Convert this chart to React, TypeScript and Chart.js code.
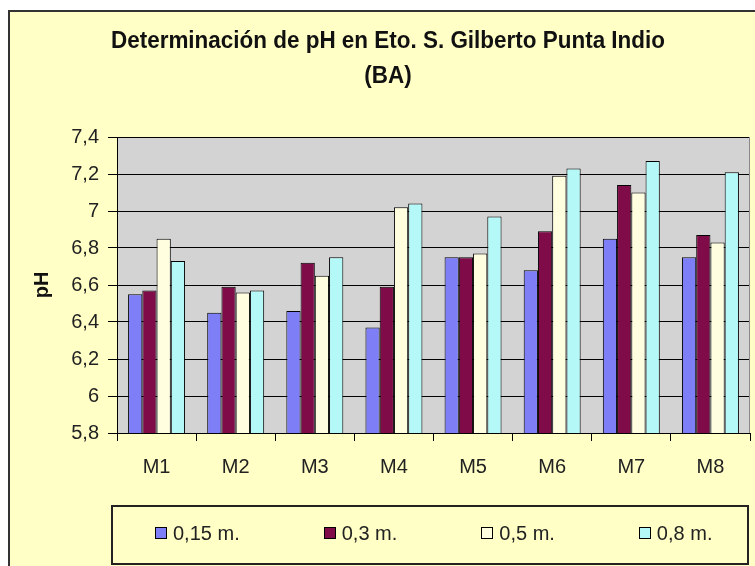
import React, { useEffect, useRef } from "react";
import { Chart, registerables } from "chart.js";

Chart.register(...registerables);

const TITLE_LINES = ["Determinación de pH en Eto. S. Gilberto Punta Indio", "(BA)"];
const Y_TITLE = "pH";
const CATEGORIES = ["M1", "M2", "M3", "M4", "M5", "M6", "M7", "M8"];
const SERIES_LABELS = ["0,15 m.", "0,3 m.", "0,5 m.", "0,8 m."];
const DEPTH_015 = [6.55, 6.45, 6.46, 6.37, 6.75, 6.68, 6.85, 6.75];
const DEPTH_03 = [6.57, 6.59, 6.72, 6.59, 6.75, 6.89, 7.14, 6.87];
const DEPTH_05 = [6.85, 6.56, 6.65, 7.02, 6.77, 7.19, 7.1, 6.83];
const DEPTH_08 = [6.73, 6.57, 6.75, 7.04, 6.97, 7.23, 7.27, 7.21];
const Y_TICK_LABELS = ["5,8", "6", "6,2", "6,4", "6,6", "6,8", "7", "7,2", "7,4"];
const Y_MIN = 5.8;
const Y_MAX = 7.4;
const Y_STEP = 0.2;

const SERIES_COLORS = ["#7e7ef6", "#7f0c48", "#ffffe0", "#b4f8f8"];
const BG = "#ffffc6";
const PLOT_BG = "#d3d3d3";
const FONT = "'Liberation Sans', Arial, sans-serif";
const TITLE_SIZE = 23;
const TITLE_TARGET_WIDTH = 554;

function titleScale(): number {
  try {
    const c = document.createElement("canvas").getContext("2d");
    if (!c) return 0.84;
    c.font = `bold ${TITLE_SIZE}px 'Liberation Sans', Arial, sans-serif`;
    const w = c.measureText(TITLE_LINES[0]).width;
    return w > 0 ? TITLE_TARGET_WIDTH / w : 0.84;
  } catch (e) {
    return 0.84;
  }
}

const plotBackground = {
  id: "plotBackground",
  beforeDraw(chart: any) {
    const { ctx, chartArea } = chart;
    if (!chartArea) return;
    ctx.save();
    ctx.fillStyle = PLOT_BG;
    ctx.fillRect(chartArea.left, chartArea.top, chartArea.right - chartArea.left, chartArea.bottom - chartArea.top);
    ctx.restore();
  },
  beforeDatasetsDraw(chart: any) {
    const { ctx, chartArea } = chart;
    ctx.save();
    ctx.strokeStyle = "#8a8a8a";
    ctx.lineWidth = 1;
    ctx.beginPath();
    ctx.moveTo(chartArea.right - 0.5, chartArea.top);
    ctx.lineTo(chartArea.right - 0.5, chartArea.bottom);
    ctx.stroke();
    ctx.restore();
  },
};

export default function App() {
  const ref = useRef<HTMLCanvasElement>(null);
  const sx = titleScale();

  useEffect(() => {
    const seriesValues = [DEPTH_015, DEPTH_03, DEPTH_05, DEPTH_08];
    const chart = new Chart(ref.current as HTMLCanvasElement, {
      type: "bar",
      data: {
        labels: CATEGORIES,
        datasets: seriesValues.map((vals, i) => ({
          label: SERIES_LABELS[i],
          data: vals,
          backgroundColor: SERIES_COLORS[i],
          borderColor: "#000",
          borderWidth: 1,
          borderSkipped: false,
          categoryPercentage: 0.72,
          barPercentage: 1,
        })),
      },
      options: {
        responsive: false,
        animation: false,
        layout: { padding: { top: 137, left: 20, right: 5, bottom: 83 } },
        plugins: {
          legend: { display: false },
          tooltip: { enabled: false },
          title: { display: false },
        },
        scales: {
          x: {
            offset: true,
            grid: {
              display: true,
              drawOnChartArea: false,
              drawTicks: true,
              tickLength: 8,
              color: "#000",
              offset: true,
            },
            border: { color: "#000", width: 1 },
            ticks: { color: "#222", font: { family: FONT, size: 20 }, padding: 14, maxRotation: 0 },
            afterFit: (s: any) => {
              s.height = 50;
            },
          },
          y: {
            min: Y_MIN,
            max: Y_MAX,
            ticks: {
              stepSize: Y_STEP,
              color: "#222",
              font: { family: FONT, size: 20 },
              padding: 9,
              callback: (value: any) => {
                const idx = Math.round((Number(value) - Y_MIN) / Y_STEP);
                return Y_TICK_LABELS[idx] ?? "";
              },
            },
            grid: { color: "#000", lineWidth: 1, tickLength: 9, drawTicks: true },
            border: { color: "#000", width: 1 },
            title: {
              display: true,
              text: Y_TITLE,
              color: "#111",
              font: { family: FONT, size: 20, weight: "bold" },
              padding: { top: 10, bottom: 0 },
            },
            afterFit: (s: any) => {
              s.width = 97;
            },
          },
        },
      },
      plugins: [plotBackground],
    });
    return () => chart.destroy();
  }, []);

  return (
    <div
      style={{
        position: "fixed",
        left: 0,
        top: 0,
        width: 755,
        height: 566,
        background: "#fff",
        overflow: "hidden",
      }}
    >
      <div
        style={{
          position: "absolute",
          left: 8,
          top: 10,
          width: 800,
          height: 620,
          background: BG,
          border: "2px solid #333",
          boxSizing: "border-box",
        }}
      />
      <canvas
        ref={ref}
        width={755}
        height={566}
        style={{ position: "absolute", left: 0, top: 0, width: 755, height: 566 }}
      />
      <div
        style={{
          position: "absolute",
          left: 0,
          top: 23,
          width: 776,
          textAlign: "center",
          fontFamily: FONT,
          fontWeight: "bold",
          fontSize: TITLE_SIZE,
          lineHeight: "35px",
          color: "#111",
          transform: `scaleX(${sx})`,
          transformOrigin: "388px 0",
          whiteSpace: "nowrap",
        }}
      >
        {TITLE_LINES.map((line) => (
          <div key={line}>{line}</div>
        ))}
      </div>
      <div
        style={{
          position: "absolute",
          left: 111,
          top: 505,
          width: 638,
          height: 60,
          boxSizing: "border-box",
          border: "2px solid #222",
          display: "flex",
          alignItems: "center",
          paddingLeft: 42,
          paddingBottom: 4,
          gap: 84,
          fontFamily: FONT,
          fontSize: 20,
          color: "#222",
          whiteSpace: "nowrap",
        }}
      >
        {SERIES_LABELS.map((label, i) => (
          <div key={label} style={{ display: "flex", alignItems: "center" }}>
            <span
              style={{
                display: "inline-block",
                width: 12,
                height: 12,
                background: SERIES_COLORS[i],
                border: "1px solid #000",
                boxSizing: "border-box",
                marginRight: 6,
              }}
            />
            <span>{label}</span>
          </div>
        ))}
      </div>
    </div>
  );
}
